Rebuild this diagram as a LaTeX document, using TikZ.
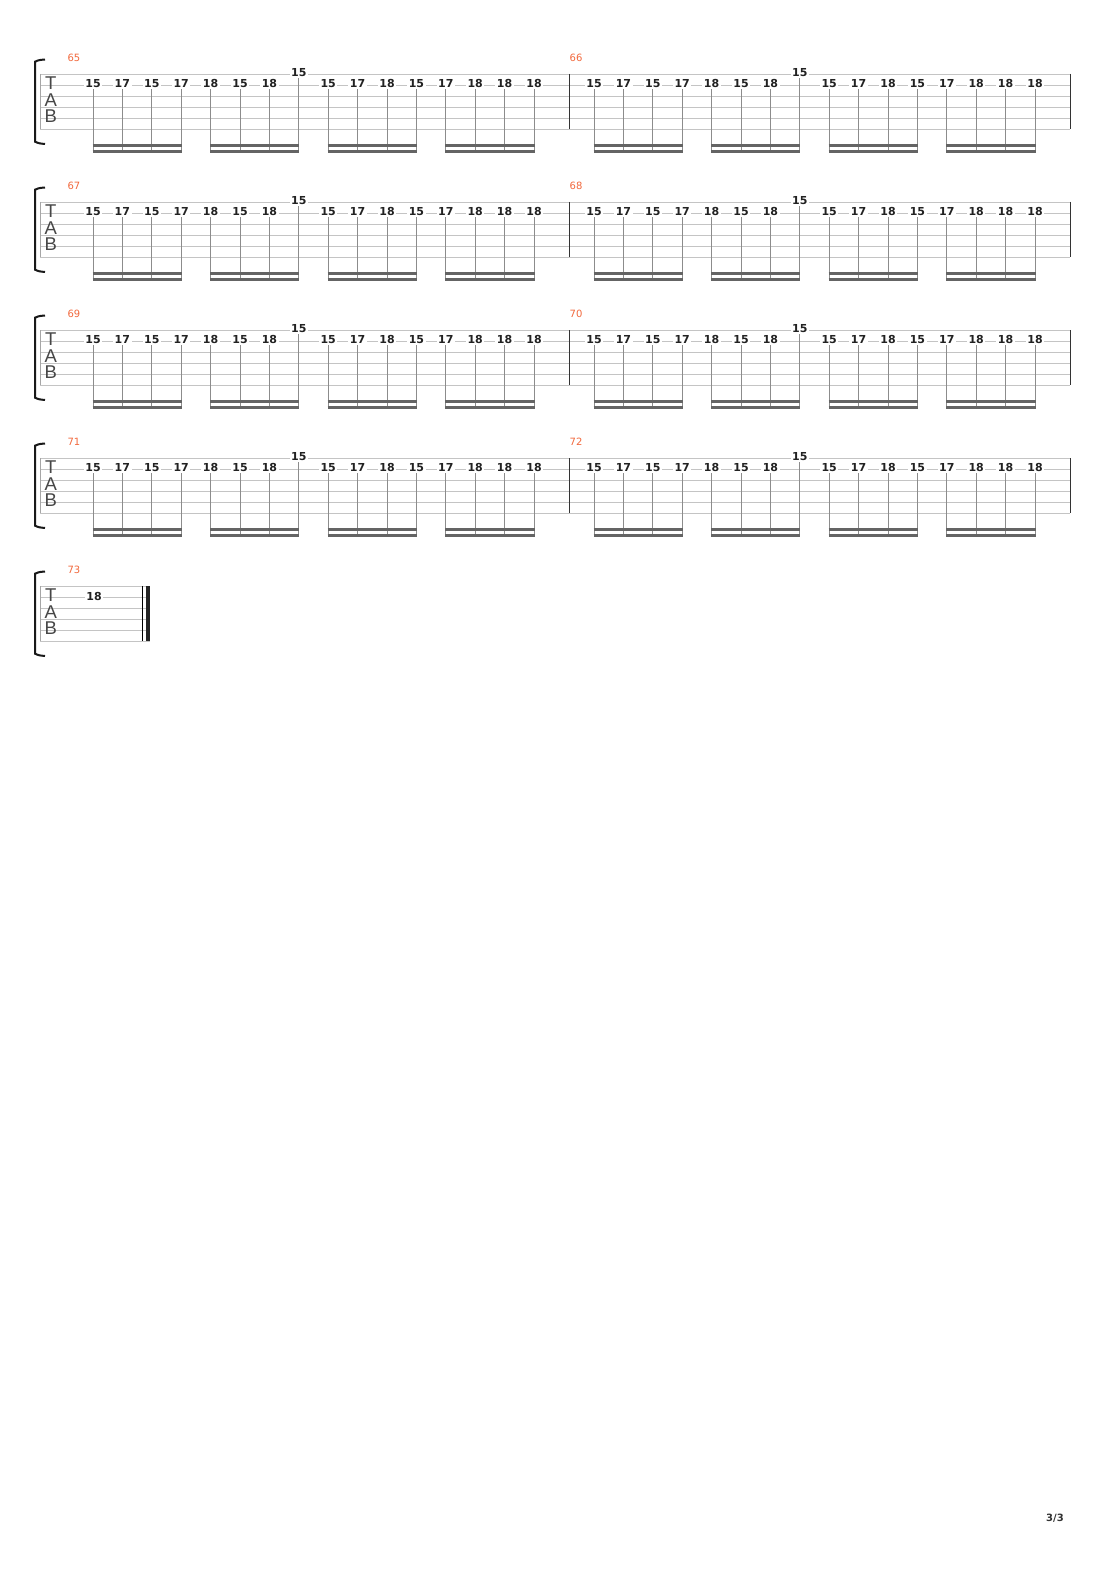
\documentclass[tikz,border=0pt]{standalone}
\usepackage{fontspec}
\setmainfont{DejaVu Sans}
\newfontfamily\fretfont{DejaVu Sans}
\newfontfamily\tabfont{Liberation Sans}
\definecolor{barorange}{RGB}{242,104,60}
\definecolor{staffgray}{RGB}{196,196,196}
\definecolor{stemgray}{RGB}{140,140,140}
\definecolor{beamgray}{RGB}{100,100,100}
\definecolor{fretblack}{RGB}{34,34,34}

\tikzset{
	staffline/.style={draw=staffgray, line width=0.8pt},
	fret/.style={font=\fretfont\bfseries\fontsize{11}{12}\selectfont, text=fretblack, fill=white, inner sep=1.5pt},
	tabletter/.style={font=\tabfont\fontsize{18.5}{19}\selectfont, text=black!72, inner sep=0pt},
	barnum/.style={font=\fontsize{10}{11}\selectfont, text=barorange, inner sep=0pt},
	stem/.style={draw=stemgray, line width=1pt},
	beam/.style={draw=beamgray, line width=2.7pt, shorten <=-0.5pt, shorten >=-0.5pt},
	barline/.style={draw=black!80, line width=1pt},
	brace/.style={draw=black!90, line width=2pt},
}

% staff lines, TAB clef and bracket of one system: #1 index, #2 top line, #3 right end
\newcommand{\tabstaff}[3]{
	\foreach \l in {0,...,5}
		\draw[staffline] (40,#2+11*\l) -- (#3,#2+11*\l);
	\draw[draw=black!35, line width=0.8pt] (40,#2) -- (40,#2+55);
	\node[tabletter] (T#1) at (50.7,#2+9.6) {T};
	\node[tabletter] (A#1) at (50.7,#2+26) {A};
	\node[tabletter] (B#1) at (50.7,#2+42) {B};
	\draw[brace] (45,#2-14.5) .. controls (39,#2-14) .. (35,#2-12.3) -- (35,#2+67.7) .. controls (39,#2+69.4) .. (45,#2+70);
}

\begin{document}
\begin{tikzpicture}[x=1pt,y=-1pt]
	\useasboundingbox[fill=white] (0,0) rectangle (1110,1570);

	%Systems 65 to 72
	\foreach \s/\ma/\mb in {0/65/66,1/67/68,2/69/70,3/71/72}{
		\pgfmathsetmacro{\yo}{74+128*\s}
		\tabstaff{\s}{\yo}{1070}
		\draw[barline] (569,\yo) -- (569,\yo+55);
		\draw[barline] (1070,\yo) -- (1070,\yo+55);
		\node[barnum] (num\s a) at (74,\yo-16) {\ma};
		\node[barnum] (num\s b) at (576,\yo-16) {\mb};

		%Notes
		\foreach \m/\xo in {a/93,b/594}{
			\foreach \f/\st [count=\k from 0] in {15/2,17/2,15/2,17/2,18/2,15/2,18/2,15/1,15/2,17/2,18/2,15/2,17/2,18/2,18/2,18/2}{
				\pgfmathsetmacro{\xn}{\xo+29.4*\k}
				\node[fret] (n\s\m\k) at (\xn,\yo+11*\st-12.5) {\f};
				\coordinate (t\s\m\k) at (\xn,\yo+78.7);
				\draw[stem] (n\s\m\k.south) -- (t\s\m\k);
			}
			%Beams
			\foreach \g in {0,4,8,12}{
				\pgfmathtruncatemacro{\h}{\g+3}
				\draw[beam] ([yshift=7.4pt]t\s\m\g) -- ([yshift=7.4pt]t\s\m\h);
				\draw[beam] ([yshift=1.35pt]t\s\m\g) -- ([yshift=1.35pt]t\s\m\h);
			}
		}
	}

	%System 73
	\tabstaff{4}{586}{150}
	\node[barnum] (num4a) at (74,570) {73};
	\node[fret] (n4a0) at (94,596.5) {18};
	\draw[draw=black, line width=0.9pt] (142.7,586) -- (142.7,641);
	\draw[draw=black!85, line width=3.5pt] (148,586) -- (148,641);

	%Page number
	\node[font=\fretfont\bfseries\fontsize{10}{12}\selectfont, text=black!80, inner sep=0pt] (page) at (1055,1518) {3/3};
\end{tikzpicture}
\end{document}
